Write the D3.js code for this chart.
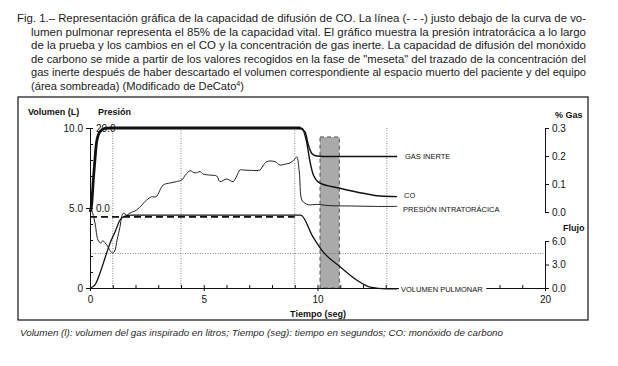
<!DOCTYPE html>
<html>
<head>
<meta charset="utf-8">
<script src="https://cdn.jsdelivr.net/npm/d3@7"></script>
<style>
  body { margin: 0; background: #fff; }
  svg { font-family: "Liberation Sans", Arial, Helvetica, sans-serif; }
</style>
</head>
<body>
<div id="chart"></div>
<script>
// size of the svg - same as the picture
var width = 618,
    height = 366;

// ---- data ----
// caption lines (justified lines get stretched to the right edge)
var captionLines = [
  "Fig. 1.\u2013 Representación gráfica de la capacidad de difusión de CO. La línea (- - -) justo debajo de la curva de vo-",
  "lumen pulmonar representa el 85% de la capacidad vital. El gráfico muestra la presión intratorácica a lo largo",
  "de la prueba y los cambios en el CO y la concentración de gas inerte. La capacidad de difusión del monóxido",
  "de carbono se mide a partir de los valores recogidos en la fase de \"meseta\" del trazado de la concentración del",
  "gas inerte después de haber descartado el volumen correspondiente al espacio muerto del paciente y del equipo"
];
var footNote = "Volumen (l): volumen del gas inspirado en litros; Tiempo (seg): tiempo en segundos; CO: monóxido de carbono";

// tick values
var timeTicks = [0, 5, 10, 20];
var volTicks = [0, 5, 10];
var presTicks = [0, 20];
var gasTicks = [0, 0.1, 0.2, 0.3];
var flowTicks = [0, 3, 6];

// gas concentration, shared rise while inhaling (both gases overlap)
var gasRiseT = [0, 0.07, 0.15, 0.22, 0.29, 0.44, 0.66, 0.9, 9.25];
var gasRise  = [0, 0.025, 0.12, 0.19, 0.25, 0.287, 0.299, 0.3, 0.3];
// inert gas after breath-hold
var inertT = [9.2, 9.45, 9.6, 9.74, 9.96, 10.55, 13.5];
var inert  = [0.3, 0.287, 0.239, 0.21, 0.2, 0.198, 0.198];
// CO after breath-hold
var coT = [9.2, 9.31, 9.52, 9.67, 9.82, 10.11, 10.99, 12.0, 12.75, 13.5];
var co  = [0.3, 0.299, 0.251, 0.18, 0.132, 0.103, 0.085, 0.067, 0.057, 0.055];

// intrathoracic pressure
var presT = [0, 0.07, 0.22, 0.35, 0.47, 0.56, 0.66, 0.79, 0.91, 1.01, 1.1, 1.19, 1.32, 1.39, 1.46, 1.54, 1.61, 1.76, 2.05, 2.49, 2.71, 2.9, 3.22, 3.52, 3.8, 4.03, 4.2, 4.4, 4.62, 4.84, 4.97, 5.3, 5.57, 5.71, 6.01, 6.29, 6.45, 6.59, 6.73, 7.1, 7.47, 7.6, 7.77, 8.13, 8.35, 8.6, 8.79, 9.0, 9.09, 9.2, 9.31, 9.45, 9.6, 10.0, 10.5, 11.5, 12.5, 13.5];
var pres  = [0, -0.5, -3.75, -8, -8.75, -8.2, -8.7, -9.7, -10.9, -11.25, -10.5, -8, -4.7, -2.2, -1.3, -1.5, -1.75, -1.25, -0.5, 2, 2.8, 2.8, 5.75, 6.25, 6.6, 7, 8.3, 9.3, 8.75, 9.1, 8.5, 8.2, 8, 6.6, 7.25, 6.6, 8, 9.5, 9.5, 9.4, 9.5, 10.5, 11.6, 11.6, 10.75, 11, 11.25, 12.2, 12.8, 9, 2, 1.2, 0.8, 0.9, 0.6, 0.5, 0.4, 0.4];

// lung volume
var volT = [0, 0.22, 0.44, 0.66, 0.88, 1.1, 1.32, 1.54, 1.8, 9.26, 9.8, 10.24, 10.99, 11.72, 12.31, 13.04, 13.5];
var vol  = [0, 0.2, 0.94, 1.875, 2.8, 3.5, 4.25, 4.5, 4.56, 4.56, 3.2, 2.27, 1.33, 0.5, 0.06, -0.05, -0.05];

// 85% of vital capacity (dashed line)
var vc85T = [0, 9.0];
var vc85 = [4.44, 4.44];

// dotted guides
var guideT = [1.0, 4.0, 9.0, 13.05];
var guideVol = 2.16;

// shaded dead space area (time range, top in % gas)
var shadeT = [10.11, 10.96];
var shadeTop = 0.268;

// ---- scales ----
var x = d3.scaleLinear().domain([0, 20]).range([90, 545]);
var yVol = d3.scaleLinear().domain([0, 10]).range([288, 128]);
var yPres = d3.scaleLinear().domain([0, 20]).range([208, 128]);
var yGas = d3.scaleLinear().domain([0, 0.3]).range([212, 128]);
var yFlow = d3.scaleLinear().domain([0, 6]).range([288, 241]);

var svg = d3.select("#chart")
            .append("svg")
            .attr("width", width)
            .attr("height", height);

// caption at the top
var cap = svg.append("g").attr("font-size", 11).attr("fill", "#1a1a1a");
captionLines.forEach(function(line, i) {
  var x0 = i === 0 ? 17 : 31;
  cap.append("text")
     .attr("x", x0)
     .attr("y", 22 + i * 13.5)
     .attr("textLength", 586 - x0)
     .attr("lengthAdjust", "spacingAndGlyphs")
     .text(line);
});
var last = cap.append("text")
   .attr("x", 31)
   .attr("y", 22 + 5 * 13.5)
   .attr("textLength", 213)
   .attr("lengthAdjust", "spacingAndGlyphs");
last.append("tspan").text("(área sombreada) (Modificado de DeCato");
last.append("tspan").attr("font-size", 7).attr("dy", -4).text("4");
last.append("tspan").attr("dy", 4).text(")");

// frame round the chart
svg.append("rect")
   .attr("x", 18).attr("y", 97)
   .attr("width", 570).attr("height", 223)
   .attr("fill", "none")
   .attr("stroke", "#111")
   .attr("stroke-width", 1.2);

// shaded area
svg.append("rect")
   .attr("x", x(shadeT[0]))
   .attr("y", yGas(shadeTop))
   .attr("width", x(shadeT[1]) - x(shadeT[0]))
   .attr("height", yVol(0) - yGas(shadeTop))
   .attr("fill", "#aaaaaa")
   .attr("stroke", "#555")
   .attr("stroke-width", 1)
   .attr("stroke-dasharray", "4,3");

// dotted guides
svg.selectAll(".vguide")
   .data(guideT)
   .enter()
   .append("line")
   .attr("x1", function(d) { return x(d); })
   .attr("x2", function(d) { return x(d); })
   .attr("y1", yVol(10))
   .attr("y2", yVol(0))
   .attr("stroke", "#666")
   .attr("stroke-width", 0.8)
   .attr("stroke-dasharray", "1,1.5");

svg.append("line")
   .attr("x1", x(0)).attr("x2", x(20))
   .attr("y1", yVol(guideVol)).attr("y2", yVol(guideVol))
   .attr("stroke", "#666")
   .attr("stroke-width", 0.8)
   .attr("stroke-dasharray", "1,1.5");

// ---- axes ----
function styleAxis(g) {
  g.selectAll("path, line").attr("stroke", "#111").attr("stroke-width", 1);
  g.selectAll("text").attr("fill", "#111").attr("font-size", 10);
}
var fmt1 = d3.format(".1f");

// x axis (time)
var xAxis = svg.append("g")
   .attr("transform", "translate(0," + yVol(0) + ")")
   .call(d3.axisBottom(x).tickValues(timeTicks).tickSizeInner(3).tickSizeOuter(0).tickPadding(5).tickFormat(d3.format("d")))
   .call(styleAxis);
svg.append("g")
   .attr("transform", "translate(0," + yVol(0) + ")")
   .call(d3.axisTop(x).tickValues(d3.range(0, 21)).tickSize(3).tickFormat(""))
   .call(function(g) { g.select(".domain").remove(); })
   .call(styleAxis);

// left axis (volume)
svg.append("g")
   .attr("transform", "translate(" + x(0) + ",0)")
   .call(d3.axisLeft(yVol).tickValues(volTicks).tickSizeInner(4).tickSizeOuter(0).tickPadding(3)
         .tickFormat(function(d) { return d === 0 ? "0" : fmt1(d); }))
   .call(styleAxis);
svg.append("g")
   .attr("transform", "translate(" + x(0) + ",0)")
   .call(d3.axisRight(yVol).tickValues(d3.range(0, 11)).tickSize(3).tickFormat(""))
   .call(function(g) { g.select(".domain").remove(); })
   .call(styleAxis);

// pressure labels next to the left axis
svg.append("g")
   .attr("transform", "translate(" + x(0) + ",0)")
   .call(d3.axisRight(yPres).tickValues(presTicks).tickSize(0).tickPadding(6).tickFormat(fmt1))
   .call(function(g) { g.select(".domain").remove(); })
   .call(styleAxis);

// right axis (% gas)
svg.append("g")
   .attr("transform", "translate(" + x(20) + ",0)")
   .call(d3.axisRight(yGas).tickValues(gasTicks).tickSize(4).tickPadding(3).tickFormat(fmt1))
   .call(styleAxis);

// right axis (flow)
svg.append("g")
   .attr("transform", "translate(" + x(20) + ",0)")
   .call(d3.axisRight(yFlow).tickValues(flowTicks).tickSize(4).tickPadding(3).tickFormat(fmt1))
   .call(styleAxis);

// axis titles
var titles = svg.append("g").attr("font-size", 9).attr("font-weight", "bold").attr("fill", "#111");
titles.append("text").attr("x", 28).attr("y", 115).text("Volumen (L)");
titles.append("text").attr("x", 98).attr("y", 115).text("Presión");
titles.append("text").attr("x", 555).attr("y", 118).text("% Gas");
titles.append("text").attr("x", 563).attr("y", 231).text("Flujo");
titles.append("text").attr("x", 318).attr("y", 317).attr("text-anchor", "middle").text("Tiempo (seg)");

// ---- curves ----
function pairs(ts, vs) {
  return ts.map(function(t, i) { return [t, vs[i]]; });
}
var lineGas = d3.line().x(function(d) { return x(d[0]); }).y(function(d) { return yGas(d[1]); }).curve(d3.curveMonotoneX);
var lineVol = d3.line().x(function(d) { return x(d[0]); }).y(function(d) { return yVol(d[1]); }).curve(d3.curveMonotoneX);
var linePres = d3.line().x(function(d) { return x(d[0]); }).y(function(d) { return yPres(d[1]); }).curve(d3.curveCatmullRom);

// 85% VC dashed line
svg.append("path")
   .attr("d", lineVol(pairs(vc85T, vc85)))
   .attr("fill", "none")
   .attr("stroke", "#111")
   .attr("stroke-width", 1.8)
   .attr("stroke-dasharray", "7,4");

// pressure
svg.append("path")
   .attr("d", linePres(pairs(presT, pres)))
   .attr("fill", "none")
   .attr("stroke", "#222")
   .attr("stroke-width", 1);

// lung volume
svg.append("path")
   .attr("d", lineVol(pairs(volT, vol)))
   .attr("fill", "none")
   .attr("stroke", "#111")
   .attr("stroke-width", 1.3);

// inert gas and CO after breath-hold
svg.append("path")
   .attr("d", lineGas(pairs(inertT, inert)))
   .attr("fill", "none")
   .attr("stroke", "#111")
   .attr("stroke-width", 1.4);
svg.append("path")
   .attr("d", lineGas(pairs(coT, co)))
   .attr("fill", "none")
   .attr("stroke", "#111")
   .attr("stroke-width", 1.4);

// shared gas trace (thick)
svg.append("path")
   .attr("d", lineGas(pairs(gasRiseT, gasRise)))
   .attr("fill", "none")
   .attr("stroke", "#111")
   .attr("stroke-width", 2.8);

// ---- end labels ----
var labs = svg.append("g").attr("font-size", 7.5).attr("fill", "#111");
labs.append("text").attr("x", 405).attr("y", yGas(inert[inert.length - 1])).attr("dy", "0.35em").text("GAS INERTE");
labs.append("text").attr("x", 404).attr("y", yGas(co[co.length - 1]) - 1).attr("dy", "0.35em").text("CO");
labs.append("text").attr("x", 403).attr("y", yPres(pres[pres.length - 1]) + 3).attr("dy", "0.35em").text("PRESIÓN INTRATORÁCICA");
// volume label sits on the axis line, white behind
var vlab = labs.append("text").attr("x", 401).attr("y", yVol(0) + 1).attr("dy", "0.35em").text("VOLUMEN PULMONAR");
var bb = vlab.node().getBBox();
labs.insert("rect", "text:last-child")
    .attr("x", bb.x - 2).attr("y", bb.y)
    .attr("width", bb.width + 5).attr("height", bb.height)
    .attr("fill", "#fff");

// foot note
svg.append("text")
   .attr("x", 20)
   .attr("y", 336)
   .attr("font-size", 8.5)
   .attr("font-style", "italic")
   .attr("fill", "#2a2a2a")
   .attr("textLength", 483)
   .attr("lengthAdjust", "spacingAndGlyphs")
   .text(footNote);
</script>
</body>
</html>
